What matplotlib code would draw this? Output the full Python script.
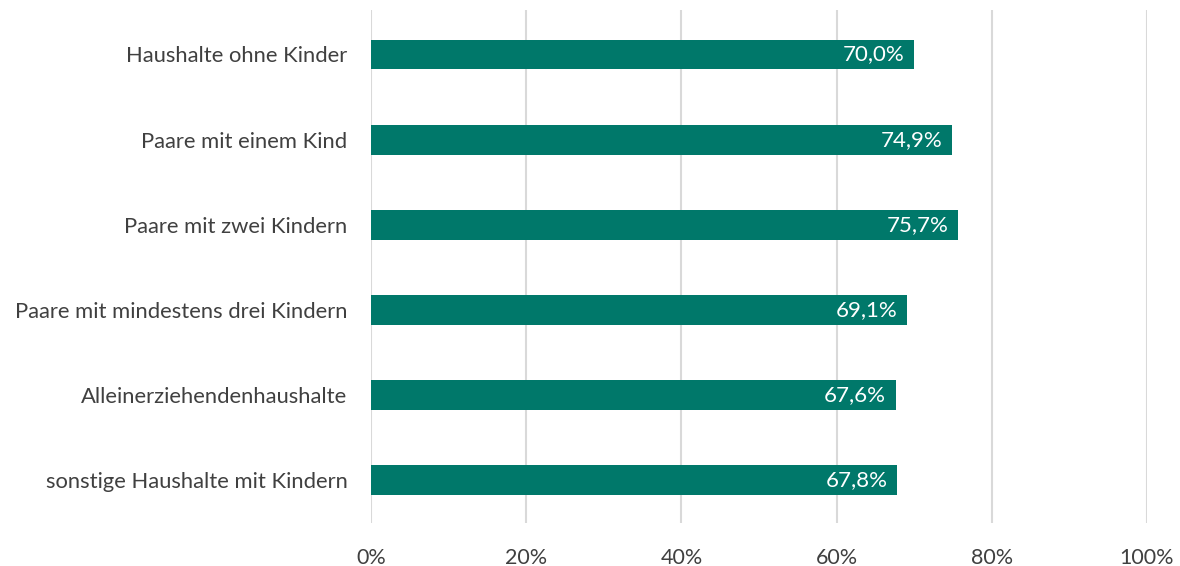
import matplotlib
matplotlib.use('Agg')
import matplotlib.pyplot as plt

plt.rcParams['font.family'] = ['Lato', 'DejaVu Sans']

# Daten
kategorien = ['Haushalte ohne Kinder', 'Paare mit einem Kind', 'Paare mit zwei Kindern',
              'Paare mit mindestens drei Kindern', 'Alleinerziehendenhaushalte',
              'sonstige Haushalte mit Kindern']
werte = [70.0, 74.9, 75.7, 69.1, 67.6, 67.8]
x_ticks = [0, 20, 40, 60, 80, 100]
x_labels = ['0%', '20%', '40%', '60%', '80%', '100%']

farbe = '#00786A'

fig = plt.figure(figsize=(11.8, 5.66), dpi=100)
ax = fig.add_axes([0.3144, 0.076, 0.6576, 0.906])

pos = list(range(len(kategorien)))
ax.barh(pos, werte, height=0.35, color=farbe, zorder=3)

for p, w in zip(pos, werte):
    ax.text(w - 1.2, p, f'{w:.1f}%'.replace('.', ','), ha='right', va='center',
            color='white', fontsize=16, zorder=4)

ax.set_ylim(len(kategorien) - 0.5, -0.52)
ax.set_xlim(0, 100)
ax.set_yticks(pos)
ax.set_yticklabels(kategorien, fontsize=15.8, color='#404040')
ax.set_xticks(x_ticks)
ax.set_xticklabels(x_labels, fontsize=15.5, color='#404040')
ax.tick_params(axis='both', length=0)
ax.tick_params(axis='y', pad=17)
ax.tick_params(axis='x', pad=18)

ax.grid(axis='x', color='#D9D9D9', linewidth=1.5, zorder=0)
for s in ax.spines.values():
    s.set_visible(False)

fig.savefig('out.png', dpi=100)
